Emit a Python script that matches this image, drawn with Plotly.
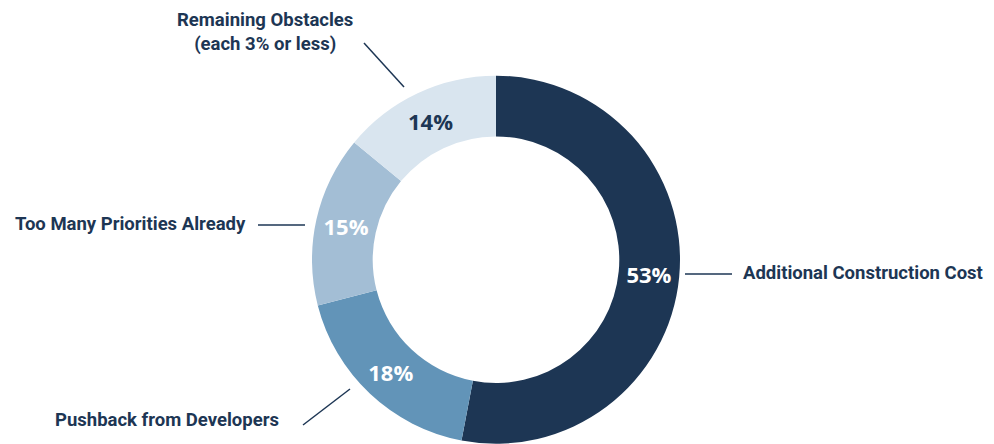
import plotly.graph_objects as go

labels = ["Additional Construction Cost", "Pushback from Developers",
          "Too Many Priorities Already", "Remaining Obstacles (each 3% or less)"]
values = [53, 18, 15, 14]
colors = ["#1d3654", "#6294b8", "#a3bed5", "#d9e5ef"]
text_colors = ["#ffffff", "#ffffff", "#ffffff", "#1d3654"]

# page body has an 8px margin; compensate so the picture lines up with the window
OFF = 8
W, H = 994 - OFF, 444 - OFF
cx, cy, r = 496 - OFF, 259.7 - OFF, 184

fig = go.Figure(go.Pie(
    labels=labels, values=values, sort=False, direction="clockwise", rotation=0,
    hole=0.67, marker=dict(colors=colors, line=dict(width=0)),
    texttemplate="%{value}%", textposition="inside", insidetextorientation="horizontal",
    textfont=dict(family="Open Sans", size=22, color=text_colors, weight="bold"),
    showlegend=False, hoverinfo="label+value",
    domain=dict(x=[(cx - r) / W, (cx + r) / W], y=[(H - cy - r) / H, (H - cy + r) / H]),
))

lab_font = dict(family="Roboto, sans-serif", size=18.5, color="#1d3654", weight="bold")

def px(x):
    return (x - OFF) / W

def py(y):
    return 1 - (y - OFF) / H

ann = [
    ("Remaining Obstacles<br>(each 3% or less)", 265, 32, "center", "center"),
    ("Too Many Priorities Already", 248, 224, "right", "right"),
    ("Additional Construction Cost", 741, 273, "left", "left"),
    ("Pushback from Developers", 53, 420, "left", "left"),
]
for t, x, y, xa, al in ann:
    fig.add_annotation(text=t, x=px(x), y=py(y), xref="paper", yref="paper",
                       xanchor=xa, yanchor="middle", align=al, showarrow=False, font=lab_font)

lines = [((364, 43), (404, 87)), ((258, 225), (305, 225)),
         ((685, 274), (732, 274)), ((303, 425), (350, 389))]
for (x0, y0), (x1, y1) in lines:
    fig.add_shape(type="line", xref="paper", yref="paper", x0=px(x0), y0=py(y0), x1=px(x1), y1=py(y1),
                  line=dict(color="#1d3654", width=1.5))

fig.update_layout(width=W, height=H, margin=dict(l=0, r=0, t=0, b=0),
                  paper_bgcolor="white", plot_bgcolor="white")
fig.write_html("out.html")
